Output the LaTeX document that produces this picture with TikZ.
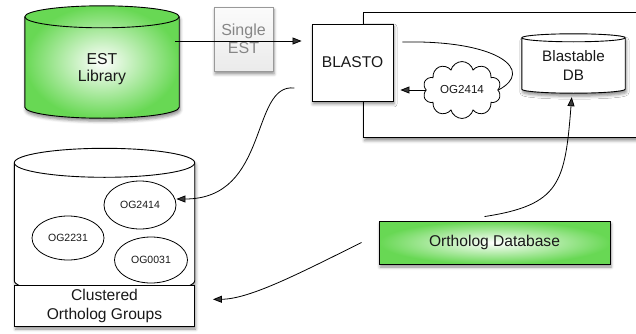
\documentclass[tikz,border=0pt]{standalone}
\usepackage{fontspec}
\setmainfont{Liberation Sans}
\usetikzlibrary{calc,shapes.geometric,shapes.symbols,shadows.blur,arrows.meta}
\definecolor{dbgreen}{RGB}{104,216,84}
\definecolor{inkgray}{RGB}{25,25,25}
% drum outline round a node: top cap centred on north, bottom cap ending on south
\newcommand\drumpath[3]{%
  \path[#3] let \p1=(#1.north west),\p2=(#1.south east),\n1={(\x2-\x1)/2} in
    (\x1,\y1) -- (\x1,\y2+#2)
    arc[start angle=180,end angle=360,x radius=\n1,y radius=#2]
    -- (\x2,\y1) arc[start angle=0,end angle=180,x radius=\n1,y radius=#2] -- cycle;
  \draw[line width=0.9pt] let \p1=(#1.north west),\p2=(#1.south east),
    \n1={(\x2-\x1)/2} in
    (\x1,\y1) arc[start angle=180,end angle=360,x radius=\n1,y radius=#2];}
\begin{document}
\begin{tikzpicture}[x=1pt,y=1pt,
  every node/.style={text=inkgray,align=center},
  softshadow/.style={blur shadow={shadow xshift=1pt,shadow yshift=-3pt,
    shadow blur radius=3pt,shadow opacity=45}},
  greenfill/.style={inner color=white,outer color=dbgreen},
  drumline/.style={draw,line width=0.9pt},
  ogellipse/.style={ellipse,draw,line width=0.8pt,fill=white,inner sep=0pt,
    font=\fontsize{10.5}{12}\selectfont},
  biglabel/.style={font=\fontsize{15.6}{18}\selectfont},
  link/.style={-{Triangle[length=9pt,width=7pt]},line width=0.8pt}]
  \useasboundingbox (0,0) rectangle (636,333);

  % BLASTO host
  \node[draw,line width=1.2pt,fill=white,softshadow,anchor=north west,
    minimum width=287pt,minimum height=125pt] (host) at (363,321) {};
  \node[draw,line width=0.9pt,fill=white,softshadow,biglabel,
    minimum width=81pt,minimum height=77pt] (blasto) at (352.5,270.5) {BLASTO};
  \node[minimum width=103pt,minimum height=55pt] (blastdb) at (573.5,267.5) {};
  \drumpath{blastdb}{4pt}{drumline,fill=white,softshadow}
  \node[biglabel,font=\fontsize{15.2}{19}\selectfont] (blastlabel) at (blastdb) {Blastable\\DB};
  \node[cloud,draw,line width=0.8pt,fill=white,cloud puffs=10,aspect=1.7,
    minimum width=78pt,minimum height=46pt,font=\fontsize{11.6}{13}\selectfont]
    (query) at (462,243) {OG2414};

  % EST input
  \node[minimum width=154pt,minimum height=101pt] (estlib) at (102,265.5) {};
  \drumpath{estlib}{11pt}{drumline,greenfill,softshadow}
  \node[biglabel,font=\fontsize{15.8}{17}\selectfont] (estlabel) at ([yshift=-2pt]estlib) {EST\\Library};
  \node[draw=gray!80,line width=0.9pt,top color=gray!3,bottom color=gray!16,
    text=gray!95,softshadow,biglabel,font=\fontsize{16}{18}\selectfont,
    minimum width=59pt,minimum height=64pt] (single) at (243.5,294) {Single\\EST};

  % clustered groups
  \node[minimum width=180pt,minimum height=132pt] (clust) at (104.5,104) {};
  \drumpath{clust}{14.5pt}{drumline,fill=white,softshadow}
  \node[ogellipse,minimum width=72pt,minimum height=48pt] (oga) at (140,128) {OG2414};
  \node[ogellipse,minimum width=72pt,minimum height=44pt] (ogb) at (68,95) {OG2231};
  \node[ogellipse,minimum width=73pt,minimum height=46pt] (ogc) at (151,73) {OG0031};
  \node[draw,line width=0.9pt,fill=white,softshadow,
    font=\fontsize{15.6}{19}\selectfont,
    minimum width=180pt,minimum height=41pt] (clustbox) at (104.5,27.5)
    {Clustered\\Ortholog Groups};

  % ortholog database
  \node[draw,line width=0.9pt,greenfill,softshadow,biglabel,
    minimum width=231pt,minimum height=43pt] (orthodb) at (494.5,90.5) {Ortholog Database};

  % connectors
  \draw[link] ([xshift=-4pt,yshift=26.5pt]estlib.east) -- ([xshift=-10pt,yshift=21.5pt]blasto.west);
  \draw[line width=0.8pt] ([xshift=9pt,yshift=20.5pt]blasto.east)
    .. controls (500,293) and (535,262) .. (query.east);
  \draw[link,shorten >=7pt] (query.west) -- (query.west -| blasto.east);
  \draw[link] ([xshift=-99pt,yshift=-25.5pt]blasto.east)
    .. controls (250,250) and (270,134) .. ([yshift=6pt]oga.east);
  \draw[link,shorten >=4pt] ([xshift=-10pt,yshift=4pt]orthodb.north)
    .. controls (560,128) and (565,150) .. ([xshift=-1.5pt]blastdb.south);
  \draw[link,shorten >=18pt] ([xshift=-17pt]orthodb.west)
    .. controls (300,60) and (250,34) .. ([yshift=6pt]clustbox.east);
\end{tikzpicture}
\end{document}
